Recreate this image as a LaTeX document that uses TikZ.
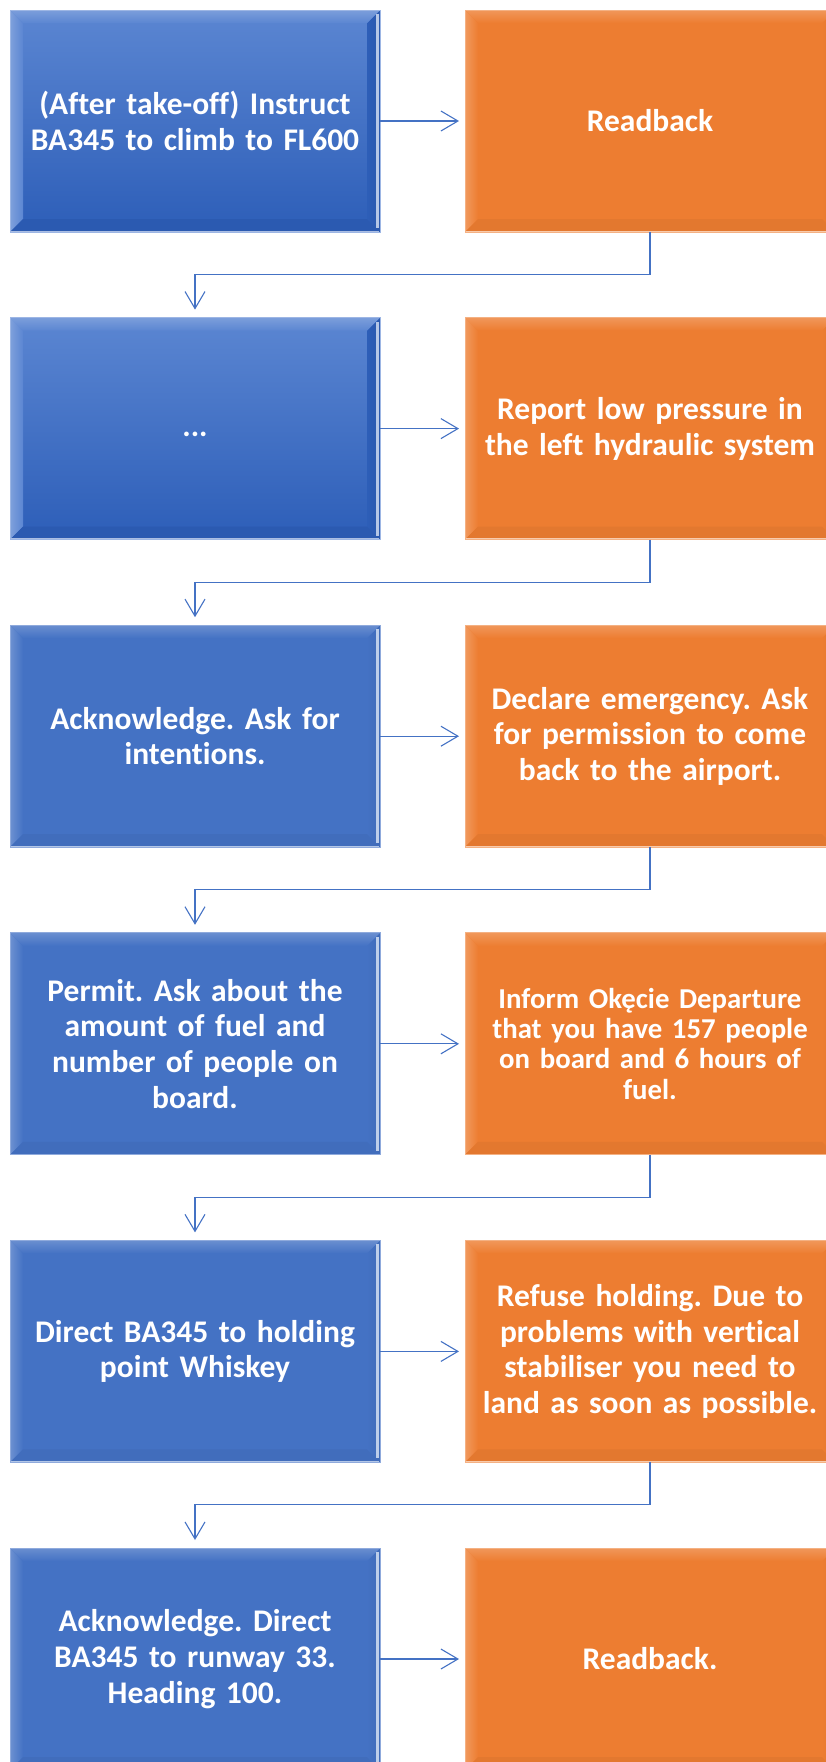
\documentclass[tikz,border=0pt]{standalone}
\usepackage{fontspec}
\setmainfont[Ligatures=NoCommon]{Carlito}
\usetikzlibrary{arrows.meta,calc}
\definecolor{bb}{HTML}{4472C4}
\definecolor{bgt}{HTML}{5B86D2}
\definecolor{bgb}{HTML}{2D5EB8}
\definecolor{oo}{HTML}{ED7D31}
\definecolor{cc}{HTML}{4472C4}
\tikzset{
  bevel/.style 2 args={path picture={
    \coordinate (NW) at (path picture bounding box.north west);
    \coordinate (NE) at (path picture bounding box.north east);
    \coordinate (SW) at (path picture bounding box.south west);
    \coordinate (SE) at (path picture bounding box.south east);
    \shade[left color=#1!78!white, right color=#1] (NW) -- ($(NW)+(13pt,-13pt)$) -- ($(SW)+(13pt,13pt)$) -- (SW) -- cycle;
    \shade[left color=#2, right color=#2!94!black] (NE) -- ($(NE)+(-13pt,-13pt)$) -- ($(SE)+(-13pt,13pt)$) -- (SE) -- cycle;
    \fill[#2!96!black] (SW) -- ($(SW)+(13pt,13pt)$) -- ($(SE)+(-13pt,13pt)$) -- (SE) -- cycle;
    \shade[top color=#1!80!white, middle color=#1!45!white, bottom color=#1] (NW) -- (NE) -- ($(NE)+(-13pt,-13pt)$) -- ($(NW)+(13pt,-13pt)$) -- cycle;
    \fill[white!65!#2] ($(NE)+(-4pt,-4pt)$) rectangle ($(SE)+(-1.5pt,4pt)$);
    \fill[white!60!#2] ($(SW)+(1pt,0pt)$) rectangle ($(SE)+(-1pt,1.2pt)$);
  }},
  box/.style={rectangle, minimum width=370pt, minimum height=222pt, inner sep=0pt, outer sep=0pt,
    text width=360pt, align=center, text=white, font=\fontsize{31.5}{35.7}\selectfont\bfseries\frenchspacing},
  smalltext/.style={font=\fontsize{28.8}{30.2}\selectfont\bfseries\frenchspacing},
  bluegrad/.style={box, top color=bgt, bottom color=bgb, draw=bgt!60!white, line width=0.8pt, bevel={bgt}{bgb}},
  blueflat/.style={box, fill=bb, draw=bb!60!white, line width=0.8pt, bevel={bb}{bb}},
  orangebox/.style={box, fill=oo, draw=oo!60!white, line width=0.8pt, bevel={oo}{oo}},
  conn/.style={draw=cc, line width=1.1pt, -{Straight Barb[length=17pt,width=20pt,line width=1.1pt]}},
}
\begin{document}
\begin{tikzpicture}[x=1pt,y=1pt]
\useasboundingbox (0,0) rectangle (826,-1762);
\clip (0,0) rectangle (826,-1762);
% row 1
\node[bluegrad] (a1) at (195,-121) {(After take-off) Instruct\\BA345 to climb to FL600};
\node[orangebox] (b1) at (650,-121) {Readback};
% row 2
\node[bluegrad] (a2) at (195,-428.6) {\vphantom{Ag}...};
\node[orangebox] (b2) at (650,-428.6) {Report low pressure in\\the left hydraulic system};
% row 3
\node[blueflat] (a3) at (195,-736.2) {Acknowledge. Ask for\\intentions.};
\node[orangebox] (b3) at (650,-736.2) {Declare emergency. Ask\\for permission to come\\back to the airport.};
% row 4
\node[blueflat] (a4) at (195,-1043.8) {Permit. Ask about the\\amount of fuel and\\number of people on\\board.};
\node[orangebox, smalltext] (b4) at (650,-1043.8) {Inform Okęcie Departure\\that you have 157 people\\on board and 6 hours of\\fuel.};
% row 5
\node[blueflat] (a5) at (195,-1351.4) {Direct BA345 to holding\\point Whiskey};
\node[orangebox] (b5) at (650,-1351.4) {Refuse holding. Due to\\problems with vertical\\stabiliser you need to\\land as soon as possible.};
% row 6
\node[blueflat] (a6) at (195,-1659) {Acknowledge. Direct\\BA345 to runway 33.\\Heading 100.};
\node[orangebox] (b6) at (650,-1659) {Readback.};
% horizontal arrows
\foreach \i in {1,...,6} {
  \draw[conn, shorten >=6pt] (a\i.east) -- (b\i.west);
}
% return connectors
\foreach \i/\j in {1/2,2/3,3/4,4/5,5/6} {
  \draw[conn, shorten >=8pt] (b\i.south) -- ++(0,-42.5) -| (a\j.north);
}
\end{tikzpicture}
\end{document}
